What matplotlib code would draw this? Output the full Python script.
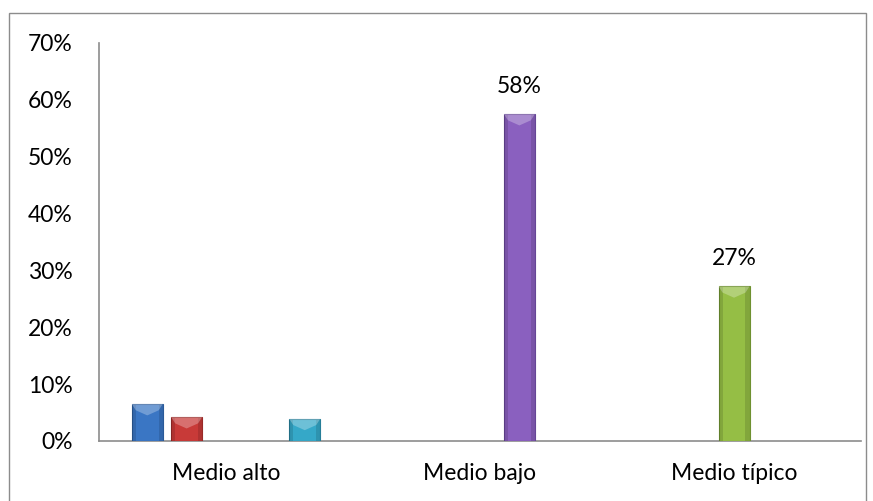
import matplotlib.pyplot as plt
import matplotlib.patches as mpatches
import numpy as np

plt.rcParams['font.family'] = ['Lato', 'DejaVu Sans']

# Datos
categorias = ['Medio alto', 'Medio bajo', 'Medio típico']
serie_azul = [6.5, 0, 0]
serie_roja = [4.2, 0, 0]
serie_verde = [0, 0, 27.2]
serie_morada = [0, 57.5, 0]
serie_cian = [3.9, 0, 0]
etiquetas_y = ['0%', '10%', '20%', '30%', '40%', '50%', '60%', '70%']

series = [serie_azul, serie_roja, serie_verde, serie_morada, serie_cian]
colores = ['#3A76C4', '#C83A38', '#95BE45', '#8A60BF', '#35A8C8']
bordes = ['#2A5A98', '#992A28', '#6E9130', '#664696', '#267E98']

fig = plt.figure(figsize=(8.73, 5.01), dpi=100)
ax = fig.add_axes([0.1134, 0.1198, 0.8729, 0.7944])

x = np.arange(len(categorias))
ancho = 0.122
paso = 0.155
lado = ancho * 0.13
for k, (vals, c, b) in enumerate(zip(series, colores, bordes)):
    pos = x + (k - 2) * paso
    for p, v in zip(pos, vals):
        if v <= 0:
            continue
        ax.bar(p, v, width=ancho, color=c, edgecolor=b, linewidth=0.8, zorder=3)
        izq, der = p - ancho / 2, p + ancho / 2
        d = min(v * 0.6, 2.0)
        # bordes laterales oscuros (bisel)
        ax.add_patch(mpatches.Rectangle((izq, 0), lado, v - 0.2, facecolor='black', alpha=0.12, lw=0, zorder=4))
        ax.add_patch(mpatches.Rectangle((der - lado, 0), lado, v - 0.2, facecolor='black', alpha=0.12, lw=0, zorder=4))
        # cara superior clara
        tri = mpatches.Polygon([[izq, v], [der, v], [der - lado, v - d * 0.55], [p, v - d], [izq + lado, v - d * 0.55]],
                               closed=True, facecolor='white', alpha=0.28, lw=0, zorder=4)
        ax.add_patch(tri)
        if v > 10:
            ax.text(p, v + 3.0, f'{round(v):.0f}%', ha='center', va='bottom', fontsize=16.5)

ax.set_xlim(-0.5, 2.5)
ax.set_ylim(0, 70)
ax.set_yticks(np.arange(0, 71, 10))
ax.set_yticklabels(etiquetas_y, fontsize=16.5)
ax.set_xticks(x)
ax.set_xticklabels(categorias, fontsize=16.5)
ax.tick_params(axis='y', length=0, pad=19)
ax.tick_params(axis='x', length=0, pad=16)
for s in ['top', 'right']:
    ax.spines[s].set_visible(False)
for s in ['left', 'bottom']:
    ax.spines[s].set_color('#8C8C8C')
    ax.spines[s].set_linewidth(1.2)

# marco del gráfico
marco = mpatches.Rectangle((9 / 873, -0.05), 857 / 873, 1.05 - 13 / 501, transform=fig.transFigure,
                           fill=False, edgecolor='#8C8C8C', linewidth=1.0)
fig.patches.append(marco)

fig.savefig('out.png', dpi=100)
